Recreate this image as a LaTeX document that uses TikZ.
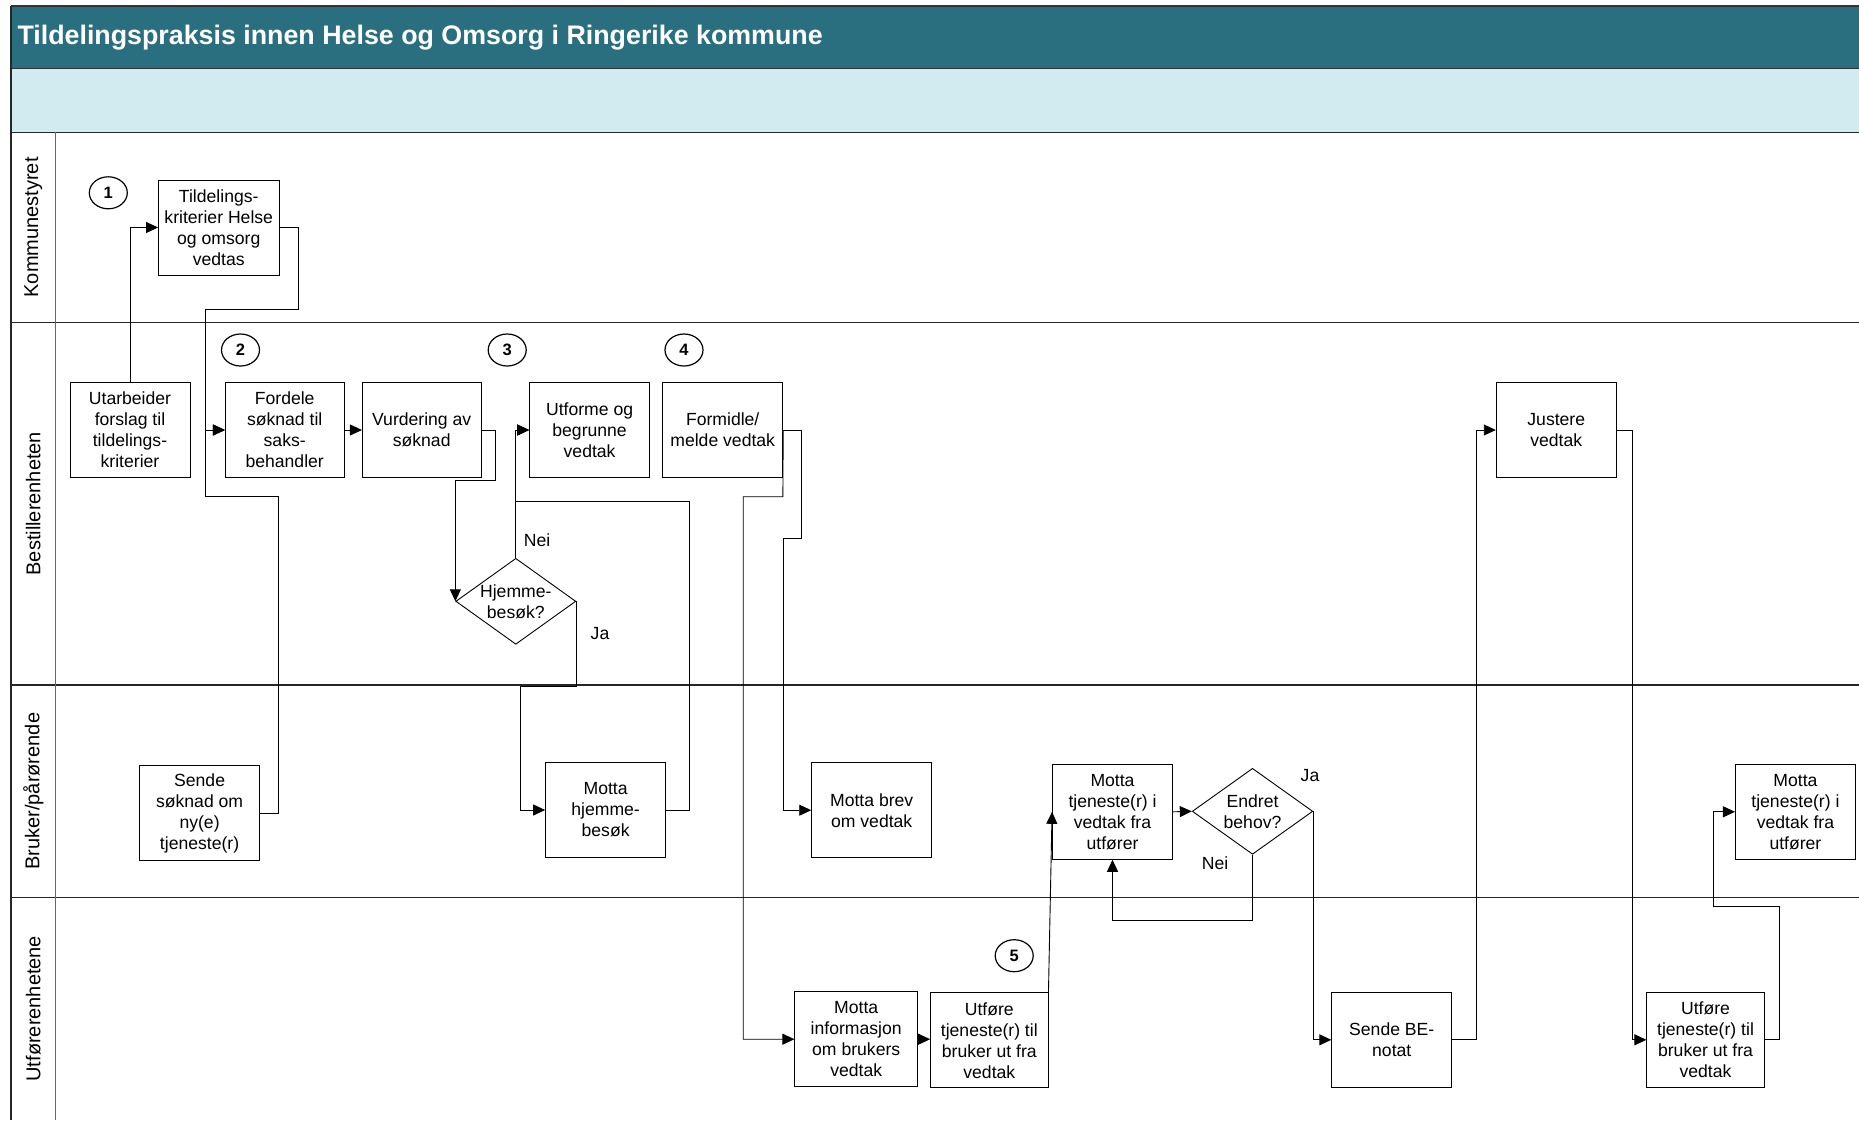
\documentclass[tikz,border=0pt]{standalone}
\usepackage{fontspec}
\setmainfont{Liberation Sans}
\usetikzlibrary{shapes.geometric,arrows.meta}
\definecolor{titlebar}{RGB}{41,111,128}
\definecolor{band}{RGB}{210,235,240}
\begin{document}
\begin{tikzpicture}[x=1pt,y=-1pt,
  box/.style={draw=black,line width=0.9pt,fill=white,rectangle,minimum width=120pt,minimum height=95pt,inner sep=0pt,align=center,font=\fontsize{17.6}{21}\selectfont},
  dia/.style={draw=black,line width=0.9pt,fill=white,diamond,minimum width=120pt,minimum height=86pt,inner sep=0pt},
  dtext/.style={align=center,font=\fontsize{17.6}{21}\selectfont,inner sep=0pt},
  num/.style={draw=black,line width=1.2pt,ellipse,minimum width=38pt,minimum height=32pt,inner sep=0pt,font=\bfseries\fontsize{16.5}{19}\selectfont},
  conn/.style={draw=black,line width=0.9pt},
  arr/.style={conn,-{Triangle[length=12pt,width=11pt]}},
  lbl/.style={font=\fontsize{17.6}{21}\selectfont,inner sep=0pt},
  lane/.style={draw=black!85,line width=1.6pt},
  lanetxt/.style={rotate=90,font=\fontsize{20}{24}\selectfont,inner sep=0pt}
]
\useasboundingbox (0,0) rectangle (1859,1120);
\fill[white] (0,0) rectangle (1859,1120);

% title and band
\fill[titlebar] (11,5.7) rectangle (1859,68.3);
\fill[band] (11,68.3) rectangle (1859,132.3);
\draw[lane,draw=black!80] (11,5.7) -- (1859,5.7);
\draw[lane,draw=black!80] (11,68.3) -- (1859,68.3);
\node[anchor=base west,inner sep=0pt,text=white,font=\bfseries\fontsize{26.8}{30}\selectfont] (title) at (17.3,44.5) {Tildelingspraksis innen Helse og Omsorg i Ringerike kommune};

% lanes
\draw[lane] (11,132.3) -- (1859,132.3);
\draw[lane] (11,322.5) -- (1859,322.5);
\draw[lane] (11,685) -- (1859,685);
\draw[lane] (11,897.5) -- (1859,897.5);
\draw[lane] (11,5.7) -- (11,1120);
\draw[draw=black!60,line width=0.9pt] (55.7,132.3) -- (55.7,1120);

\node[lanetxt] (l1) at (33.3,227.4) {Kommunestyret};
\node[lanetxt] (l2) at (33.3,503.7) {Bestillerenheten};
\node[lanetxt] (l3) at (33.3,791.2) {Bruker/pårørende};
\node[lanetxt] (l4) at (33.3,1008.7) {Utførerenhetene};

% number markers
\node[num] (n1) at (108.3,192.8) {1};
\node[num] (n2) at (240.5,350) {2};
\node[num] (n3) at (507.2,350) {3};
\node[num] (n4) at (684,350) {4};
\node[num] (n5) at (1014.2,955.7) {5};

% boxes
\node[box,minimum width=120.5pt] (b1) at (218.75,227.5) {Tildelings-\\kriterier Helse\\og omsorg\\vedtas};
\node[box] (utarb) at (130,430) {Utarbeider\\forslag til\\tildelings-\\kriterier};
\node[box,minimum width=118.6pt] (fordele) at (284.7,430) {Fordele\\søknad til\\saks-\\behandler};
\node[box,minimum width=118.6pt] (vurd) at (421.7,430) {Vurdering av\\søknad};
\node[box] (utforme) at (589.6,430) {Utforme og\\begrunne\\vedtak};
\node[box] (formidle) at (722.7,430) {Formidle/\\melde vedtak};
\node[box] (justere) at (1556.25,430) {Justere\\vedtak};
\node[box] (sende) at (199.6,813.2) {Sende\\søknad om\\ny(e)\\tjeneste(r)};
\node[box] (mhjem) at (605.6,810) {Motta\\hjemme-\\besøk};
\node[box] (mbrev) at (871.7,810.2) {Motta brev\\om vedtak};
\node[box] (mt1) at (1112.5,811.8) {Motta\\tjeneste(r) i\\vedtak fra\\utfører};
\node[box] (mt2) at (1795.4,811.8) {Motta\\tjeneste(r) i\\vedtak fra\\utfører};
\node[box,minimum width=122.7pt] (minfo) at (856.2,1039.2) {Motta\\informasjon\\om brukers\\vedtak};
\node[box,minimum width=117.4pt] (utf1) at (989.3,1040.3) {Utføre\\tjeneste(r) til\\bruker ut fra\\vedtak};
\node[box] (sbe) at (1391.75,1039.8) {Sende BE-\\notat};
\node[box,minimum width=117.4pt] (utf2) at (1705.5,1039.8) {Utføre\\tjeneste(r) til\\bruker ut fra\\vedtak};

% diamonds
\node[dia] (d1) at (515.8,601.3) {};
\node[dtext] (d1t) at (d1) {Hjemme-\\besøk?};
\node[dia,minimum width=120.5pt] (d2) at (1252.5,811.3) {};
\node[dtext] (d2t) at (d2) {Endret\\behov?};

% connectors
\draw[arr] (utarb.north) |- (b1.west);
\draw[arr] (b1.east) -| (298.3,309.3) -| (205.2,430) -- (fordele.west);
\draw[arr] (sende.east) -| (278.8,496.7) -| (205.2,430) -- (fordele.west);
\draw[arr] (fordele.east) -- (vurd.west);
\draw[arr] (vurd.east) -| (495.8,480) -| (d1.west);
\draw[arr] (d1.north) |- (utforme.west);
\draw[arr] (mhjem.east) -| (689.8,501.7) -| (515.8,430) -- (utforme.west);
\draw[arr] (d1.east) |- (520.8,686.7) |- (mhjem.west);
\draw[arr] (formidle.east) -| (801.9,538.3) -| (783,810.2) -- (mbrev.west);
\draw[arr] (formidle.east) -- (782.9,496.7) -| (743.2,1039.2) -- (minfo.west);
\draw[arr] (minfo.east) -- (utf1.west |- minfo.east);
\draw[arr] (utf1.north east) -- (mt1.west);
\draw[arr] (mt1.east) -- (d2.west);
\draw[arr] (d2.south) -- (1252.5,920.7) -| (mt1.south);
\draw[arr] (d2.east) |- (sbe.west);
\draw[arr] (sbe.east) -| (1476.8,430) -- (justere.west);
\draw[arr] (justere.east) -| (1632.1,1039.8) -- (utf2.west);
\draw[arr] (utf2.east) -| (1779.5,906.7) -| (1713.4,811.8) -- (mt2.west);

% labels
\node[lbl] (nei1) at (537,540) {Nei};
\node[lbl] (ja1) at (600,634) {Ja};
\node[lbl] (nei2) at (1215,863) {Nei};
\node[lbl] (ja2) at (1310,775.5) {Ja};
\end{tikzpicture}
\end{document}
